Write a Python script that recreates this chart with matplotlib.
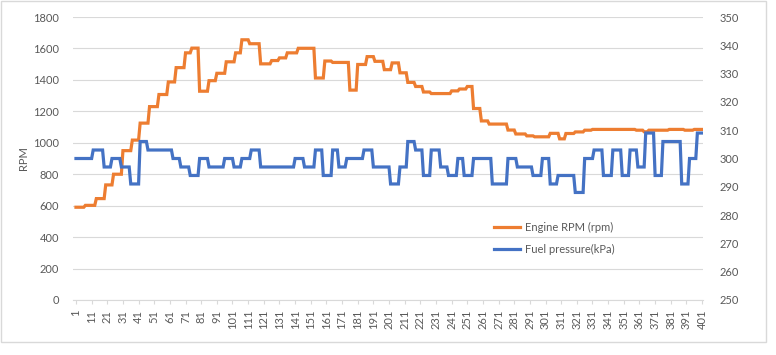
import numpy as np
import matplotlib
matplotlib.use("Agg")
from matplotlib import pyplot as plt
from matplotlib.patches import Rectangle

# step levels: sample index where a level starts, and the level
rpm_start = [1, 7, 14, 20, 25, 31, 37, 42, 48, 54, 60, 65, 71, 75, 80, 86, 91, 97,
             103, 107, 112, 119, 126, 131, 136, 143, 154, 160, 165, 176, 181, 187,
             192, 198, 203, 208, 213, 218, 223, 228, 241, 246, 251, 255, 260, 265,
             277, 282, 289, 294, 304, 310, 314, 320, 326, 331, 359, 364, 367, 380,
             390, 396]
rpm_level = [590, 602, 645, 732, 800, 950, 1017, 1125, 1230, 1307, 1387, 1478,
             1572, 1602, 1328, 1395, 1442, 1515, 1572, 1655, 1630, 1502, 1523, 1540,
             1572, 1601, 1412, 1520, 1511, 1335, 1498, 1548, 1518, 1465, 1508, 1445,
             1384, 1358, 1323, 1313, 1330, 1342, 1358, 1218, 1139, 1119, 1081, 1056,
             1044, 1038, 1060, 1025, 1059, 1069, 1080, 1085, 1080, 1070, 1080, 1085,
             1080, 1085]

fuel_start = [1, 12, 19, 24, 30, 36, 42, 47, 63, 68, 74, 80, 86, 96, 102, 107, 113,
              119, 141, 147, 154, 159, 165, 169, 174, 185, 191, 202, 208, 213, 218,
              223, 228, 234, 239, 245, 249, 255, 267, 277, 283, 293, 299, 304, 309,
              320, 326, 332, 338, 344, 350, 355, 360, 365, 371, 376, 388, 393, 398]
fuel_level = [300, 303, 297, 300, 297, 291, 306, 303, 300, 297, 294, 300, 297, 300,
              297, 300, 303, 297, 300, 297, 303, 294, 303, 297, 300, 303, 297, 291,
              297, 306, 303, 294, 303, 297, 294, 300, 294, 300, 291, 300, 297, 294,
              300, 291, 294, 288, 300, 303, 294, 303, 294, 303, 297, 309, 294, 306,
              291, 300, 309]

n_samples = 401
tick_labels = [str(i) for i in range(1, n_samples + 1, 10)]


def expand(starts, levels, n):
    # hold each level until the next one starts
    ends = starts[1:] + [n + 1]
    return np.repeat(levels, [e - s for s, e in zip(starts, ends)])


x = np.arange(1, n_samples + 1)
rpm = expand(rpm_start, rpm_level, n_samples)
fuel = expand(fuel_start, fuel_level, n_samples)

plt.rcParams['font.family'] = ['Lato', 'DejaVu Sans']
txt = '#595959'

fig = plt.figure(figsize=(7.76, 3.55), dpi=100)
W, H = 776, 355
ax = fig.add_axes([73 / W, 1 - 300 / H, (703 - 73) / W, (300 - 17) / H])
ax2 = ax.twinx()

ax.plot(x, rpm, color='#ED7D31', lw=2.3, label='Engine RPM (rpm)', solid_joinstyle='miter')
ax2.plot(x, fuel, color='#4472C4', lw=2.3, label='Fuel pressure(kPa)', solid_joinstyle='miter')

ax.set_xlim(-0.9, 401.6)
ax.set_ylim(0, 1800)
ax2.set_ylim(250, 350)
ax.set_yticks(range(0, 1801, 200))
ax2.set_yticks(range(250, 351, 10))
ax.set_xticks(range(1, n_samples + 1, 10))
ax.set_xticklabels(tick_labels, rotation=90)

ax.grid(axis='y', color='#d9d9d9', lw=0.8)
ax.set_axisbelow(True)
for a in (ax, ax2):
    for s in a.spines.values():
        s.set_visible(False)
ax.spines['bottom'].set_visible(True)
ax.spines['bottom'].set_color('#d9d9d9')

ax.tick_params(axis='y', length=0, pad=10, labelsize=8, labelcolor=txt)
ax2.tick_params(axis='y', length=0, pad=12, labelsize=8, labelcolor=txt)
ax.tick_params(axis='x', length=3, color='#d9d9d9', pad=4, labelsize=8, labelcolor=txt)
ax.set_ylabel('RPM', fontsize=8, color=txt, labelpad=3)

h1, l1 = ax.get_legend_handles_labels()
h2, l2 = ax2.get_legend_handles_labels()
fig.legend(h1 + h2, l1 + l2, loc='upper left', bbox_to_anchor=(488 / W, 1 - 216 / H),
           frameon=False, fontsize=8, labelcolor=txt, handlelength=2.4,
           handletextpad=0.4, labelspacing=1.0, borderpad=0)

fig.patches.append(Rectangle((0.5 / W, 1 - 342 / H), 765 / W, 341.5 / H, fill=False,
                             edgecolor='#d9d9d9', lw=1, transform=fig.transFigure))

fig.savefig('out.png', dpi=100)
